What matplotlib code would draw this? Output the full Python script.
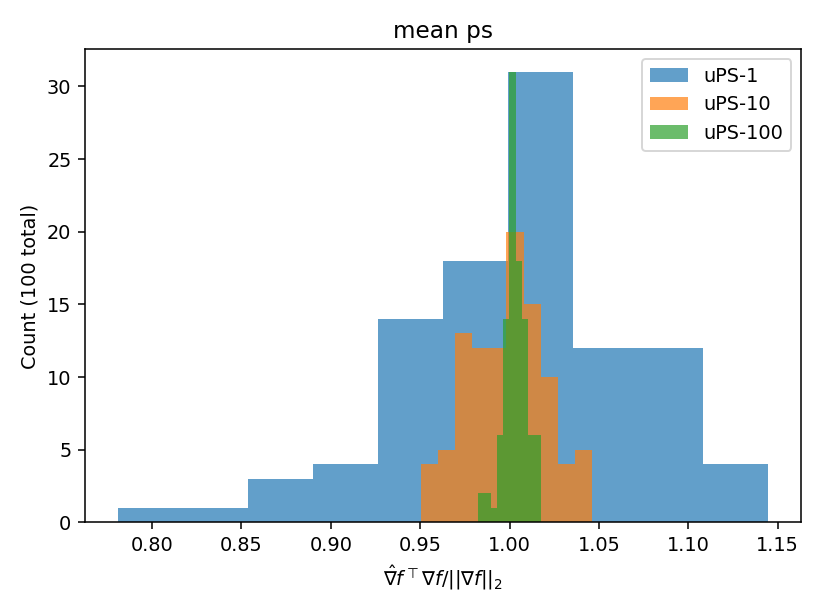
import numpy as np
from matplotlib import pyplot as plt

# bin ranges (lo, hi) and counts, 10 bins each
ups1_range = (0.7807, 1.1449)
ups1_counts = [1, 1, 3, 4, 14, 18, 31, 12, 12, 4]

ups10_range = (0.9503, 1.0462)
ups10_counts = [4, 5, 13, 12, 12, 20, 15, 10, 4, 5]

ups100_range = (0.9825, 1.0174)
ups100_counts = [2, 2, 1, 6, 14, 31, 18, 14, 6, 6]

labels = ["uPS-1", "uPS-10", "uPS-100"]

dpi = 139
fig = plt.figure(figsize=(822 / dpi, 616 / dpi), dpi=dpi)
ax = fig.add_axes([0.1034, 0.1518, 0.8711, 0.7682])

for rng, counts, label in zip([ups1_range, ups10_range, ups100_range],
                              [ups1_counts, ups10_counts, ups100_counts],
                              labels):
    edges = np.linspace(rng[0], rng[1], len(counts) + 1)
    ax.hist(edges[:-1], bins=edges, weights=counts, alpha=0.7, label=label)

ax.set_title("mean ps")
ax.set_xlabel(r"$\hat{\nabla} f^{\top} \nabla f / ||\nabla f||_2$")
ax.set_ylabel("Count (100 total)")
ax.legend(loc="upper right")

fig.savefig("out.png", dpi=dpi)
